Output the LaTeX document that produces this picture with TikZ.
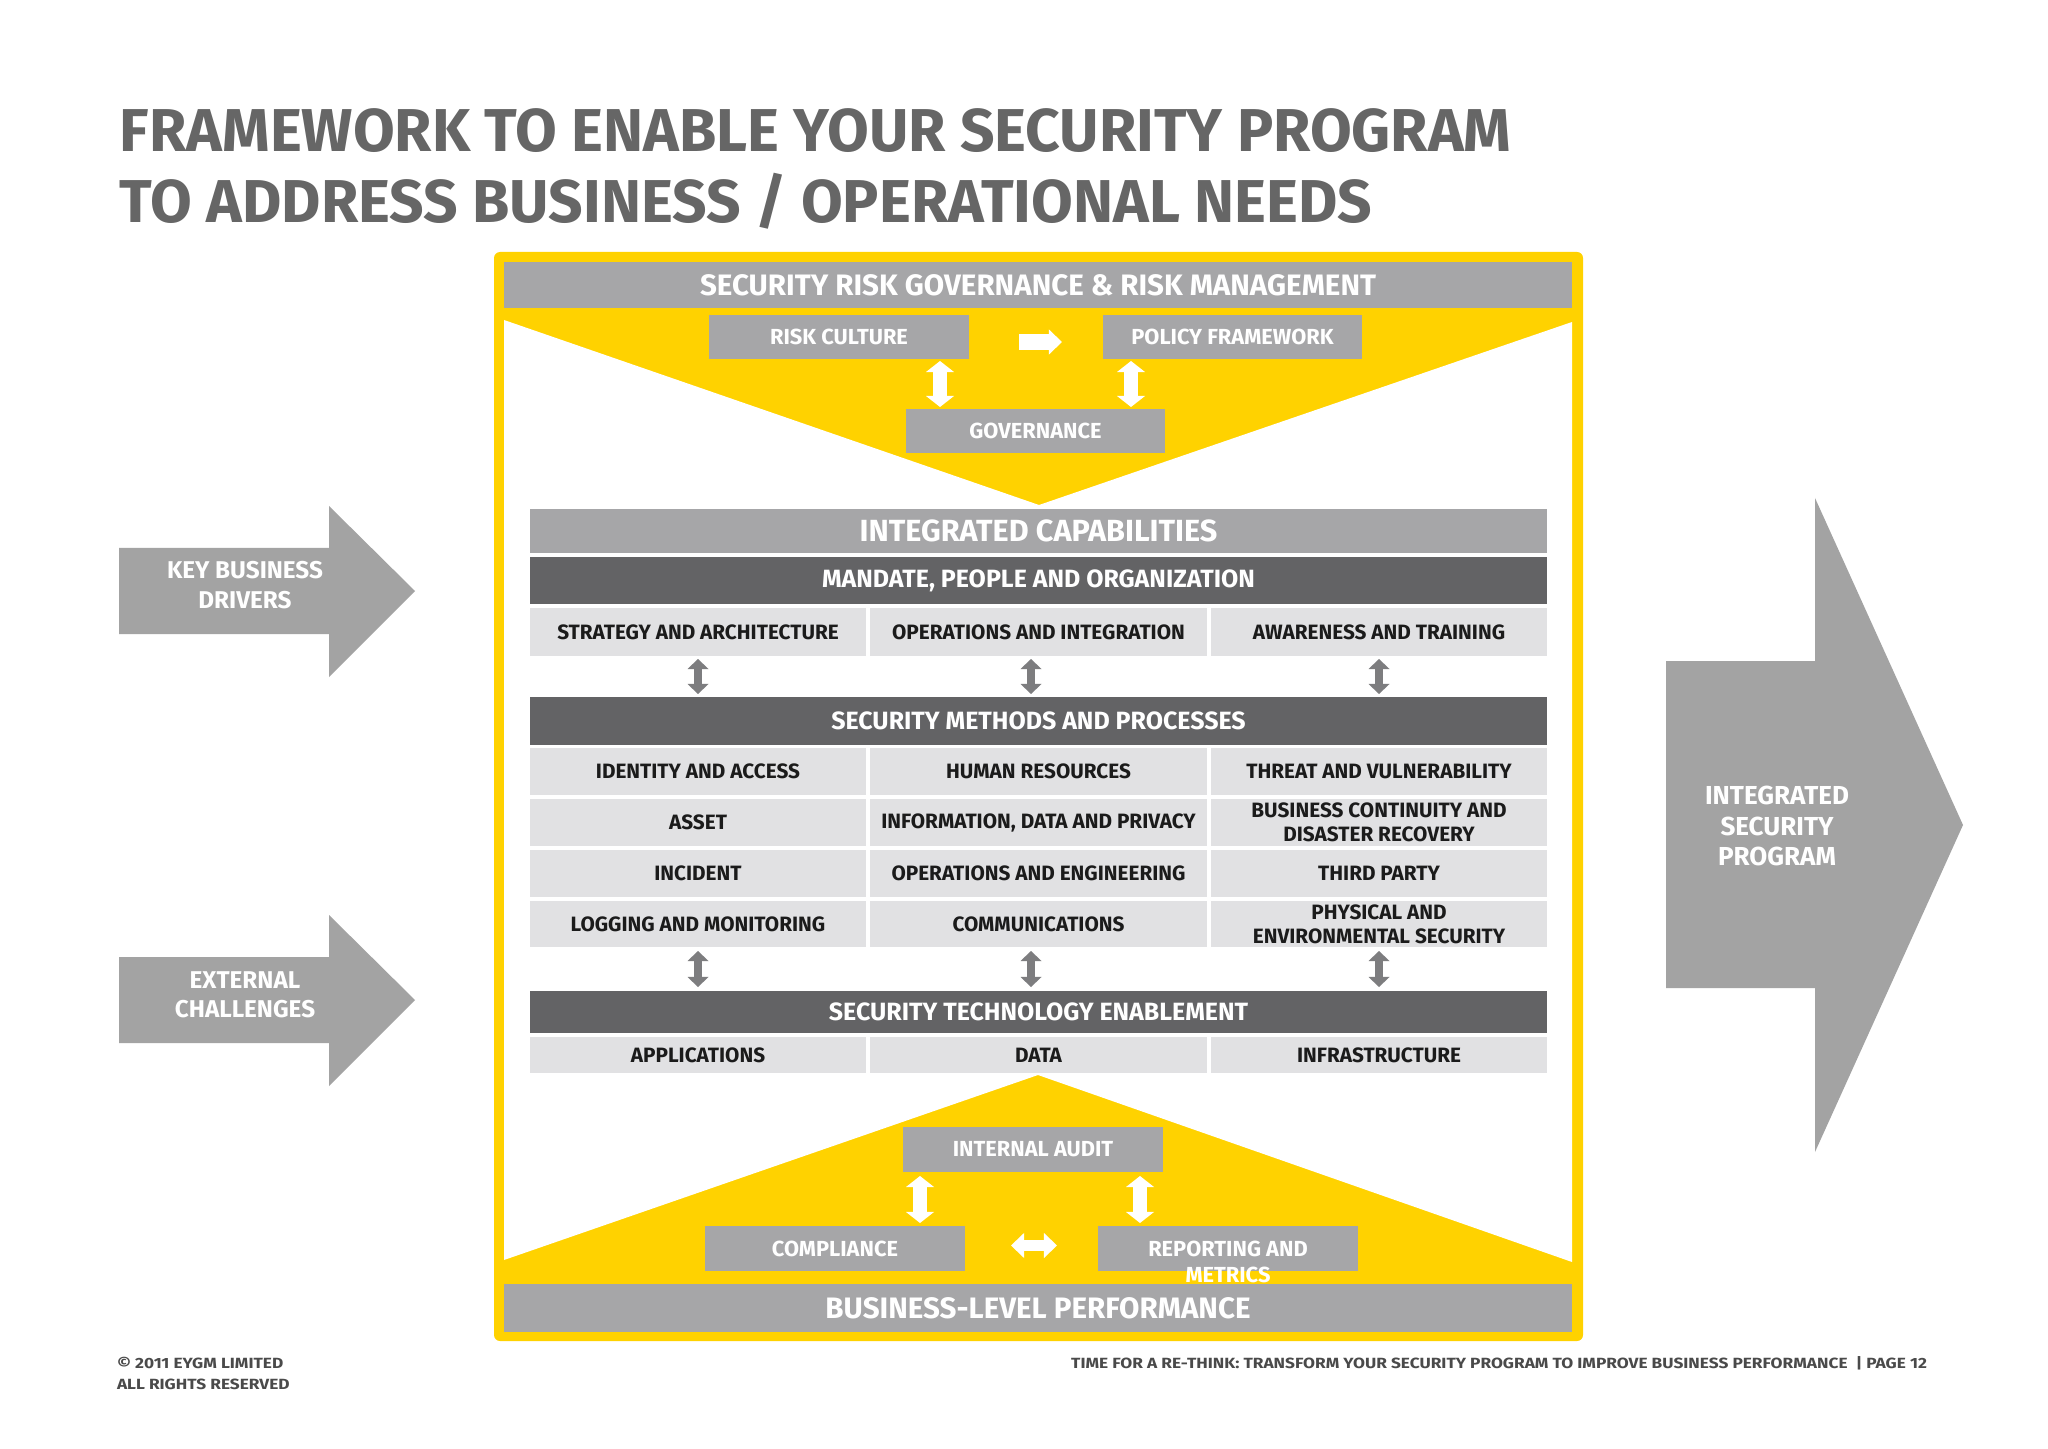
\documentclass[tikz,border=0pt]{standalone}
\usepackage{fontspec}
\setmainfont{Fira Sans}
\usetikzlibrary{arrows.meta}
\definecolor{eyy}{HTML}{FFD200}
\definecolor{boxgray}{HTML}{A6A6A8}
\definecolor{cellgray}{HTML}{E1E1E3}
\definecolor{darkbar}{HTML}{636365}
\definecolor{arrgray}{HTML}{7D7D7F}
\definecolor{bigarr}{HTML}{A3A3A3}
\definecolor{titlegray}{HTML}{666666}
\definecolor{footgray}{HTML}{4A4A4A}
\definecolor{textblk}{HTML}{1B1B1B}
\newcommand\bx[7]{\node[#6, minimum width={(#4-#2)*0.01cm}, minimum height={(#5-#3)*0.01cm}] (#1) at ({(#2+#4)/2},{(#3+#5)/2}) {#7};}
\newcommand\wide[1]{\scalebox{1.17}[1]{#1}}
\begin{document}
\begin{tikzpicture}[x=0.01cm,y=-0.01cm,
  every node/.style={inner sep=0pt, outer sep=0pt},
  gbox/.style={fill=boxgray, text=white, font=\bfseries\fontsize{6.2}{7.4}\selectfont},
  gboxb/.style={fill=boxgray, text=white, font=\bfseries\fontsize{6.2}{7.4}\selectfont},
  headbar/.style={fill=boxgray, text=white, font=\bfseries\fontsize{8.4}{9}\selectfont},
  dbar/.style={fill=darkbar, text=white, font=\bfseries\fontsize{7.1}{8}\selectfont},
  cellbox/.style={fill=cellgray, text=textblk, align=center, font=\bfseries\fontsize{5.9}{6.8}\selectfont},
  arrtext/.style={text=white, align=center, font=\bfseries\fontsize{6.9}{8.4}\selectfont},
  wdarr/.style={draw=white, line width=0.14cm, {Triangle[width=0.28cm,length=0.11cm,line width=0pt]}-{Triangle[width=0.28cm,length=0.11cm,line width=0pt]}},
  whdarr/.style={draw=white, line width=0.11cm, {Triangle[width=0.25cm,length=0.13cm,line width=0pt]}-{Triangle[width=0.25cm,length=0.13cm,line width=0pt]}},
  wsarr/.style={draw=white, line width=0.16cm, -{Triangle[width=0.25cm,length=0.13cm,line width=0pt]}},
  gdarr/.style={draw=arrgray, line width=0.08cm, {Triangle[width=0.21cm,length=0.10cm,line width=0pt]}-{Triangle[width=0.21cm,length=0.10cm,line width=0pt]}},
  foot/.style={text=footgray, font=\bfseries\fontsize{4.2}{6}\selectfont}
]
\useasboundingbox (0,0) rectangle (2048,1449);
\fill[white] (0,0) rectangle (2048,1449);

% title
\node[anchor=west, text=titlegray, font=\bfseries\fontsize{17.2}{20}\selectfont] (t1) at (120,131) {FRAMEWORK TO ENABLE YOUR SECURITY PROGRAM};
\node[anchor=west, text=titlegray, font=\bfseries\fontsize{17.2}{20}\selectfont] (t2) at (120,201) {TO ADDRESS BUSINESS / OPERATIONAL NEEDS};

% frame
\fill[eyy, rounded corners=0.06cm] (494,252) rectangle (1583,1341);
\fill[white] (504,320) -- (1039,505) -- (1572,322) -- (1572,1262) -- (1038,1075) -- (504,1260) -- cycle;

% top section
\bx{srg}{504}{262}{1572}{308}{headbar}{SECURITY RISK GOVERNANCE \& RISK MANAGEMENT}
\bx{rc}{709}{315}{969}{359}{gbox}{RISK CULTURE}
\bx{pf}{1103}{315}{1362}{359}{gbox}{POLICY FRAMEWORK}
\bx{gov}{906}{409}{1165}{453}{gbox}{GOVERNANCE}
\coordinate (xa) at (940,0);
\coordinate (xb) at (1131,0);
\draw[wsarr, shorten <=0.5cm, shorten >=0.41cm] ([yshift=-0.05cm]rc.east) -- ([yshift=-0.05cm]pf.west);
\draw[wdarr, shorten <=0.02cm, shorten >=0.02cm] (rc.south -| xa) -- (gov.north -| xa);
\draw[wdarr, shorten <=0.02cm, shorten >=0.02cm] (pf.south -| xb) -- (gov.north -| xb);

% integrated capabilities
\bx{ic}{530}{509}{1547}{553}{headbar, font=\bfseries\fontsize{8.7}{9}\selectfont}{INTEGRATED CAPABILITIES}
\bx{mpo}{530}{557}{1547}{604}{dbar}{MANDATE, PEOPLE AND ORGANIZATION}
\bx{a1}{530}{608}{866}{656}{cellbox}{STRATEGY AND ARCHITECTURE}
\bx{a2}{870}{608}{1207}{656}{cellbox}{OPERATIONS AND INTEGRATION}
\bx{a3}{1211}{608}{1547}{656}{cellbox}{AWARENESS AND TRAINING}
\bx{smp}{530}{697}{1547}{745}{dbar}{SECURITY METHODS AND PROCESSES}
\bx{b1}{530}{748}{866}{795}{cellbox}{IDENTITY AND ACCESS}
\bx{b2}{870}{748}{1207}{795}{cellbox}{HUMAN RESOURCES}
\bx{b3}{1211}{748}{1547}{795}{cellbox}{THREAT AND VULNERABILITY}
\bx{c1}{530}{799}{866}{846}{cellbox}{ASSET}
\bx{c2}{870}{799}{1207}{846}{cellbox}{INFORMATION, DATA AND PRIVACY}
\bx{c3}{1211}{799}{1547}{846}{cellbox}{BUSINESS CONTINUITY AND\\DISASTER RECOVERY}
\bx{d1}{530}{850}{866}{897}{cellbox}{INCIDENT}
\bx{d2}{870}{850}{1207}{897}{cellbox}{OPERATIONS AND ENGINEERING}
\bx{d3}{1211}{850}{1547}{897}{cellbox}{THIRD PARTY}
\bx{e1}{530}{901}{866}{947}{cellbox}{LOGGING AND MONITORING}
\bx{e2}{870}{901}{1207}{947}{cellbox}{COMMUNICATIONS}
\bx{e3}{1211}{901}{1547}{947}{cellbox}{PHYSICAL AND\\ENVIRONMENTAL SECURITY}
\bx{ste}{530}{991}{1547}{1033}{dbar}{SECURITY TECHNOLOGY ENABLEMENT}
\bx{f1}{530}{1037}{866}{1073}{cellbox}{APPLICATIONS}
\bx{f2}{870}{1037}{1207}{1073}{cellbox}{DATA}
\bx{f3}{1211}{1037}{1547}{1073}{cellbox}{INFRASTRUCTURE}

\coordinate (xm) at (1031,0);
\draw[gdarr, shorten <=0.03cm, shorten >=0.03cm] (a1.south) -- (smp.north -| a1.south);
\draw[gdarr, shorten <=0.03cm, shorten >=0.03cm] (a2.south -| xm) -- (smp.north -| xm);
\draw[gdarr, shorten <=0.03cm, shorten >=0.03cm] (a3.south) -- (smp.north -| a3.south);
\draw[gdarr, shorten <=0.04cm, shorten >=0.04cm] (e1.south) -- (ste.north -| e1.south);
\draw[gdarr, shorten <=0.04cm, shorten >=0.04cm] (e2.south -| xm) -- (ste.north -| xm);
\draw[gdarr, shorten <=0.04cm, shorten >=0.04cm] (e3.south) -- (ste.north -| e3.south);

% bottom section
\bx{ia}{903}{1127}{1163}{1172}{gboxb}{INTERNAL AUDIT}
\bx{comp}{705}{1226}{965}{1271}{gboxb}{COMPLIANCE}
\bx{rep}{1098}{1226}{1358}{1271}{gboxb, text height=4.27pt, text depth=0pt}{\begin{tabular}[t]{@{}c@{}}REPORTING AND\\METRICS\end{tabular}}
\coordinate (xc) at (920,0);
\coordinate (xd) at (1140,0);
\draw[wdarr, shorten <=0.04cm, shorten >=0.03cm] (ia.south -| xc) -- (comp.north -| xc);
\draw[wdarr, shorten <=0.04cm, shorten >=0.03cm] (ia.south -| xd) -- (rep.north -| xd);
\draw[whdarr, shorten <=0.46cm, shorten >=0.41cm] ([yshift=0.03cm]comp.east) -- ([yshift=0.03cm]rep.west);
\bx{blp}{504}{1284}{1572}{1332}{headbar}{BUSINESS-LEVEL PERFORMANCE}

% big arrows
\fill[bigarr] (119,548) -- (329,548) -- (329,506) -- (415,591) -- (329,677) -- (329,634) -- (119,634) -- cycle;
\node[arrtext] (kbd) at (245,585) {KEY BUSINESS\\DRIVERS};
\fill[bigarr] (119,957) -- (329,957) -- (329,915) -- (415,1000) -- (329,1086) -- (329,1043) -- (119,1043) -- cycle;
\node[arrtext] (ext) at (245,995) {EXTERNAL\\CHALLENGES};
\fill[bigarr] (1666,661) -- (1815,661) -- (1815,498) -- (1963,825) -- (1815,1152) -- (1815,988) -- (1666,988) -- cycle;
\node[arrtext, font=\bfseries\fontsize{7.4}{8.8}\selectfont] (isp) at (1777,826) {INTEGRATED\\SECURITY\\PROGRAM};

% footer
\node[foot, anchor=west] (cp1) at (117,1363) {\wide{© 2011 EYGM LIMITED}};
\node[foot, anchor=west] (cp2) at (117,1384) {\wide{ALL RIGHTS RESERVED}};
\node[foot, anchor=east] (ft) at (1927,1363) {\wide{TIME FOR A RE-THINK: TRANSFORM YOUR SECURITY PROGRAM TO IMPROVE BUSINESS PERFORMANCE \ | PAGE 12}};
\end{tikzpicture}
\end{document}
